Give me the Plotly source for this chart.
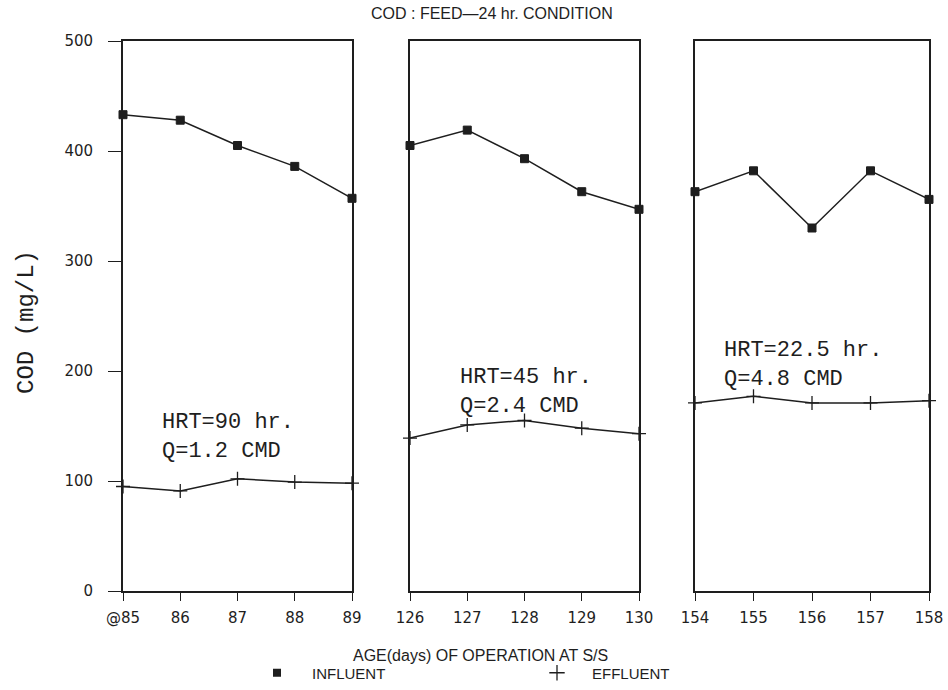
import plotly.graph_objects as go

# ---------------- data ----------------
days_p1 = [85, 86, 87, 88, 89]
days_p2 = [126, 127, 128, 129, 130]
days_p3 = [154, 155, 156, 157, 158]

tick_text_p1 = ["@85", "86", "87", "88", "89"]
tick_text_p2 = ["126", "127", "128", "129", "130"]
tick_text_p3 = ["154", "155", "156", "157", "158"]

influent_p1 = [433, 428, 405, 386, 357]
effluent_p1 = [95, 91, 102, 99, 98]
influent_p2 = [405, 419, 393, 363, 347]
effluent_p2 = [139, 151, 155, 148, 143]
influent_p3 = [363, 382, 330, 382, 356]
effluent_p3 = [171, 177, 171, 171, 173]

y_ticks = [0, 100, 200, 300, 400, 500]

# ---------------- figure ----------------
W, H = 948, 690
INK = "#1e1e1e"

def px_x(p):
    return p / W

def px_y(p):
    return 1 - p / H

fig = go.Figure()

panels = [
    (days_p1, tick_text_p1, influent_p1, effluent_p1, "x", "y"),
    (days_p2, tick_text_p2, influent_p2, effluent_p2, "x2", "y2"),
    (days_p3, tick_text_p3, influent_p3, effluent_p3, "x3", "y3"),
]

for days, _, inf, eff, xa, ya in panels:
    fig.add_trace(go.Scatter(
        x=days, y=inf, xaxis=xa, yaxis=ya, mode="lines+markers",
        line=dict(color=INK, width=1.5),
        marker=dict(symbol="square", size=8, color=INK,
                    line=dict(color=INK, width=1)),
        showlegend=False, cliponaxis=False, name="INFLUENT"))
    fig.add_trace(go.Scatter(
        x=days, y=eff, xaxis=xa, yaxis=ya, mode="lines+markers",
        line=dict(color=INK, width=1.5),
        marker=dict(symbol="cross-thin", size=10,
                    line=dict(color=INK, width=1.3)),
        showlegend=False, cliponaxis=False, name="EFFLUENT"))

# legend-only entries (marker symbols as in the original key)
fig.add_trace(go.Scatter(x=[None], y=[None], mode="markers", name="INFLUENT",
                         marker=dict(symbol="square", size=8, color=INK)))
fig.add_trace(go.Scatter(x=[None], y=[None], mode="markers", name="EFFLUENT",
                         marker=dict(symbol="cross-thin", size=11,
                                     line=dict(color=INK, width=1.3))))

tick_font = dict(family="DejaVu Sans", size=15, color=INK)
x_domains = [(123, 352), (410, 639), (695, 929)]
y_dom = [px_y(591), px_y(41)]

layout = dict(
    width=W, height=H,
    paper_bgcolor="white", plot_bgcolor="white",
    margin=dict(l=0, r=0, t=0, b=0, autoexpand=False),
    showlegend=True,
    legend=dict(orientation="h", x=px_x(242), y=px_y(673), yanchor="middle",
                xanchor="left", entrywidth=205, entrywidthmode="pixels",
                itemwidth=60,
                font=dict(family="Liberation Sans", size=15, color=INK),
                bgcolor="rgba(0,0,0,0)"),
)

for i, (days, ttext, _, _, xa, ya) in enumerate(panels):
    sfx = "" if i == 0 else str(i + 1)
    d0, d1 = x_domains[i]
    layout["xaxis" + sfx] = dict(
        domain=[px_x(d0), px_x(d1)], range=[days[0], days[-1]],
        anchor="y" + sfx, tickvals=days, ticktext=ttext,
        ticks="outside", ticklen=8, tickwidth=1.3, tickcolor=INK,
        showline=True, linecolor=INK, linewidth=1.8, mirror=True,
        showgrid=False, zeroline=False, tickfont=tick_font,
        ticklabelstandoff=4)
    layout["yaxis" + sfx] = dict(
        domain=y_dom, range=[0, 500], anchor="x" + sfx,
        tickvals=y_ticks, showticklabels=(i == 0),
        ticks="outside" if i == 0 else "", ticklen=13, tickwidth=1.3,
        tickcolor=INK, showline=True, linecolor=INK, linewidth=1.8,
        mirror=True, showgrid=False, zeroline=False, tickfont=tick_font,
        ticklabelstandoff=12 if i == 0 else 0)

fig.update_layout(**layout)

mono = dict(family="Liberation Mono", size=22, color=INK)
notes = [
    ("HRT=90 hr.<br>Q=1.2 CMD", 160, 437),
    ("HRT=45 hr.<br>Q=2.4 CMD", 458, 392),
    ("HRT=22.5 hr.<br>Q=4.8 CMD", 722, 365),
]
for txt, x0, y0 in notes:
    fig.add_annotation(text=txt, x=px_x(x0), y=px_y(y0), xref="paper",
                       yref="paper", xanchor="left", yanchor="middle",
                       align="left", showarrow=False, font=mono)

fig.add_annotation(text="COD : FEED\u201424 hr. CONDITION", x=px_x(492),
                   y=px_y(14), xref="paper", yref="paper", showarrow=False,
                   xanchor="center", yanchor="middle",
                   font=dict(family="Liberation Sans", size=16, color=INK))
fig.add_annotation(text="AGE(days) OF OPERATION AT S/S", x=px_x(481),
                   y=px_y(655), xref="paper", yref="paper", showarrow=False,
                   xanchor="center", yanchor="middle",
                   font=dict(family="Liberation Sans", size=16, color=INK))
fig.add_annotation(text="COD (mg/L)", x=px_x(26), y=px_y(322), xref="paper",
                   yref="paper", showarrow=False, textangle=-90,
                   xanchor="center", yanchor="middle",
                   font=dict(family="Liberation Mono", size=24, color=INK))

fig.write_html("out.html")
